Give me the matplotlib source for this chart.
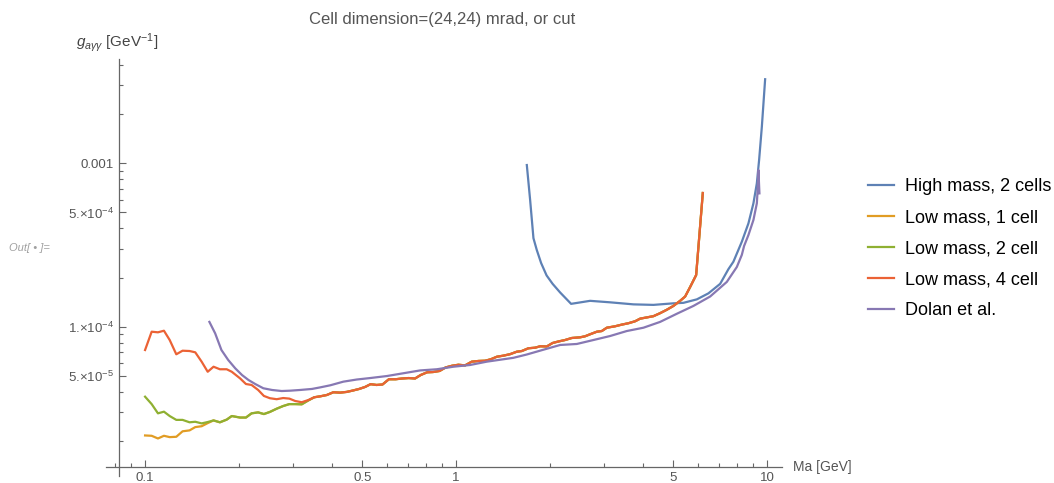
import numpy as np
import matplotlib
matplotlib.use("Agg")
import matplotlib.pyplot as plt
from matplotlib.ticker import FixedLocator, FixedFormatter, NullFormatter

plt.rcParams["font.family"] = ["Liberation Sans", "DejaVu Sans"]
plt.rcParams["mathtext.fontset"] = "custom"
plt.rcParams["mathtext.rm"] = "Liberation Sans"
plt.rcParams["mathtext.it"] = "Liberation Sans:italic"

# values (Ma in GeV, g in units of 1e-5 GeV^-1)
low_mass = [0.100, 0.105, 0.110, 0.115, 0.120, 0.126, 0.132, 0.139, 0.145, 0.152,
            0.159, 0.166, 0.174, 0.183, 0.190, 0.202, 0.211, 0.220, 0.231, 0.241,
            0.252, 0.265, 0.278, 0.291, 0.304, 0.319, 0.335, 0.350, 0.366, 0.384,
            0.403, 0.424, 0.445, 0.466, 0.488, 0.510, 0.531, 0.555, 0.580, 0.608,
            0.639, 0.671, 0.704, 0.738, 0.769, 0.807, 0.843, 0.885, 0.925, 0.971,
            1.017, 1.069, 1.123, 1.180, 1.239, 1.293, 1.352, 1.419, 1.491, 1.567,
            1.627, 1.708, 1.795, 1.863, 1.957, 2.043, 2.133, 2.241, 2.355, 2.504,
            2.599, 2.697, 2.835, 2.941, 3.052, 3.245, 3.411, 3.581, 3.764, 3.905,
            4.104, 4.310, 4.528, 4.759, 4.996, 5.252, 5.450, 5.656, 5.913, 6.212]

low4_g = [7.20, 9.32, 9.24, 9.45, 8.29, 6.78, 7.13, 7.10, 6.97, 6.11,
          5.30, 5.69, 5.49, 5.49, 5.30, 4.83, 4.46, 4.40, 4.10, 3.77,
          3.65, 3.60, 3.66, 3.63, 3.51, 3.45, 3.56, 3.70, 3.75, 3.82,
          3.97, 3.95, 3.99, 4.07, 4.16, 4.28, 4.45, 4.40, 4.43, 4.77,
          4.77, 4.82, 4.85, 4.82, 5.06, 5.26, 5.28, 5.36, 5.63, 5.77,
          5.85, 5.80, 6.11, 6.17, 6.19, 6.32, 6.55, 6.65, 6.79, 7.03,
          7.10, 7.38, 7.44, 7.59, 7.57, 7.95, 8.12, 8.29, 8.53, 8.61,
          8.74, 8.99, 9.32, 9.41, 9.86, 10.06, 10.3, 10.5, 10.8, 11.2,
          11.4, 11.6, 12.1, 12.7, 13.4, 14.4, 15.3, 17.5, 20.7, 65.8]

# below ~0.33 GeV the 2-cell and 1-cell curves differ, above they sit under the 4-cell one
low2_head = [3.73, 3.36, 2.95, 3.02, 2.84, 2.69, 2.69, 2.60, 2.62, 2.56,
             2.61, 2.67, 2.60, 2.70, 2.84, 2.78, 2.78, 2.95, 2.99, 2.92,
             3.01, 3.15, 3.27, 3.36, 3.36, 3.35, 3.54]
low1_head = [2.16, 2.15, 2.07, 2.15, 2.11, 2.12, 2.29, 2.32, 2.43, 2.46, 2.57, 2.67]

low2_g = low2_head + low4_g[len(low2_head):]
low1_g = low1_head + low2_g[len(low1_head):]

high_mass = [1.688, 1.730, 1.773, 1.817, 1.877, 1.954, 2.043, 2.160, 2.343, 2.697,
             3.127, 3.717, 4.310, 4.996, 5.382, 5.943, 6.476, 7.064, 7.508, 7.792,
             8.291, 8.708, 9.036, 9.267, 9.425, 9.616, 9.854]
high2_g = [97.6, 59.6, 34.8, 29.5, 24.5, 20.6, 18.3, 16.2, 13.8, 14.4,
           14.1, 13.7, 13.6, 13.9, 14.0, 14.7, 16.0, 18.3, 22.5, 25.0,
           33.1, 42.9, 56.9, 75.4, 105, 167, 327]

dolan_mass = [0.161, 0.168, 0.176, 0.185, 0.195, 0.205, 0.215, 0.226, 0.240, 0.256,
              0.275, 0.293, 0.315, 0.344, 0.365, 0.394, 0.434, 0.479, 0.529, 0.599,
              0.677, 0.766, 0.867, 0.980, 1.109, 1.255, 1.419, 1.528, 1.688, 1.908,
              2.160, 2.444, 2.764, 3.127, 3.539, 4.003, 4.528, 5.124, 5.794, 6.557,
              7.420, 7.991, 8.291, 8.433, 8.708, 9.036, 9.267, 9.335, 9.376, 9.446]
dolan_g = [10.7, 9.11, 7.20, 6.26, 5.56, 5.06, 4.72, 4.46, 4.20, 4.10,
           4.04, 4.06, 4.10, 4.16, 4.25, 4.38, 4.61, 4.75, 4.85, 4.99,
           5.19, 5.40, 5.49, 5.69, 5.83, 6.11, 6.32, 6.45, 6.76, 7.23,
           7.73, 7.84, 8.29, 8.77, 9.41, 9.86, 10.7, 12.0, 13.4, 15.3,
           18.8, 23.2, 27.5, 31.2, 36.4, 45.0, 56.9, 71.9, 91.0, 65.5]

labels = ["High mass, 2 cells", "Low mass, 1 cell", "Low mass, 2 cell",
          "Low mass, 4 cell", "Dolan et al."]
colors = ["#5E81B5", "#E19C24", "#8FB032", "#EB6235", "#8778B3"]

x_major = [0.1, 0.5, 1, 5, 10]
x_major_labels = ["0.1", "0.5", "1", "5", "10"]
x_minor = [0.08, 0.09, 0.2, 0.3, 0.4, 0.6, 0.7, 0.8, 0.9, 2, 3, 4, 6, 7, 8, 9]
y_major = [5e-5, 1e-4, 5e-4, 1e-3]
y_major_labels = [r"5.$\times$10$^{-5}$", r"1.$\times$10$^{-4}$",
                  r"5.$\times$10$^{-4}$", "0.001"]
y_minor = [2e-5, 3e-5, 4e-5, 6e-5, 7e-5, 8e-5, 9e-5, 2e-4, 3e-4, 4e-4,
           6e-4, 7e-4, 8e-4, 9e-4, 2e-3, 3e-3, 4e-3]

series = [
    (high_mass, high2_g),
    (low_mass, low1_g),
    (low_mass, low2_g),
    (low_mass, low4_g),
    (dolan_mass, dolan_g),
]

fig = plt.figure(figsize=(10.54, 4.83), dpi=100)
ax = fig.add_axes([0.1006, 0.0145, 0.6414, 0.8634])

for (xs, gs), lab, col in zip(series, labels, colors):
    ax.plot(xs, np.array(gs) * 1e-5, color=col, lw=1.6, label=lab)

ax.set_xscale("log")
ax.set_yscale("log")
ax.set_xlim(0.0749, 11.17)
ax.set_ylim(1.22e-5, 4.35e-3)

# Mathematica style axes crossing near the lower left corner
for side in ["top", "right"]:
    ax.spines[side].set_visible(False)
ax.spines["left"].set_position(("data", 0.0825))
ax.spines["bottom"].set_position(("data", 1.39e-5))
for side in ["left", "bottom"]:
    ax.spines[side].set_color("#666666")
    ax.spines[side].set_linewidth(0.9)

ax.xaxis.set_major_locator(FixedLocator(x_major))
ax.xaxis.set_major_formatter(FixedFormatter(x_major_labels))
ax.xaxis.set_minor_locator(FixedLocator(x_minor))
ax.xaxis.set_minor_formatter(NullFormatter())
ax.yaxis.set_major_locator(FixedLocator(y_major))
ax.yaxis.set_major_formatter(FixedFormatter(y_major_labels))
ax.yaxis.set_minor_locator(FixedLocator(y_minor))
ax.yaxis.set_minor_formatter(NullFormatter())

ax.tick_params(which="both", direction="in", color="#666666", width=0.8,
               labelcolor="#555555", labelsize=9.5, pad=4)
ax.tick_params(which="major", length=5)
ax.tick_params(which="minor", length=3)

fig.text(442 / 1054, 1 - 24 / 483, "Cell dimension=(24,24) mrad, or cut",
         ha="center", va="baseline", fontsize=12, color="#555555")
fig.text(76 / 1054, 1 - 43 / 483, r"$g_{a\gamma\gamma}$ [GeV$^{-1}$]",
         ha="left", va="center", fontsize=11, color="#444444")
fig.text(793 / 1054, 1 - 466.7 / 483, "Ma [GeV]",
         ha="left", va="center", fontsize=10, color="#555555")
fig.text(9 / 1054, 1 - 248 / 483, "Out[ \u2022 ]=", ha="left", va="center",
         fontsize=8, style="italic", color="#a0a0a0")

fig.legend(loc="upper left", bbox_to_anchor=(868 / 1054, 1 - 178 / 483),
           frameon=False, fontsize=13, handlelength=1.45, handletextpad=0.6,
           labelspacing=0.78, borderpad=0, borderaxespad=0)

plt.savefig("out.png", dpi=100)
